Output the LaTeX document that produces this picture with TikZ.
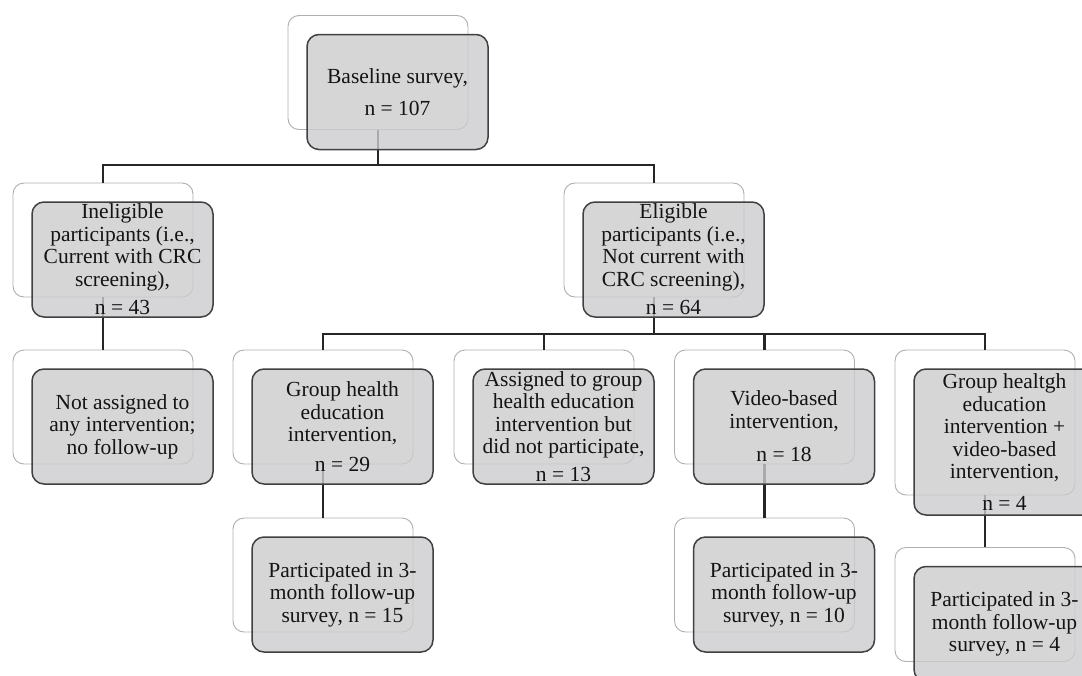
\documentclass[tikz,border=0pt]{standalone}
\usepackage{fontspec}
\setmainfont{Liberation Serif}
\usepackage{xcolor}
\usepackage{tikz}
\usetikzlibrary{shapes, positioning}
\definecolor{boxgray}{RGB}{204,204,206}
\definecolor{backline}{RGB}{175,175,175}
\definecolor{frontline}{RGB}{64,64,64}
\definecolor{connline}{RGB}{38,38,38}

\begin{document}
\begin{tikzpicture}[x=1pt, y=-1pt,
            back/.style = {draw=backline, line width=0.9pt, fill=white, rounded corners=11pt,
                           minimum width=180pt, minimum height=114pt, inner sep=0pt},
            front/.style = {draw=frontline, line width=1.5pt, fill=boxgray, fill opacity=0.8,
                            rounded corners=12pt, minimum width=181pt, minimum height=115pt, inner sep=0pt},
            txt/.style = {align=center, inner sep=0pt, text=black!92,
                          font=\fontsize{21.5}{22.5}\selectfont},
            conn/.style = {draw=connline, line width=2.3pt}]
            \useasboundingbox (0,0) rectangle (1082,675);
            \clip (0,0) rectangle (1082,675);
            % back boxes
            \node[back] (b0) at (378,72.5) {};
            \node[back] (b1) at (103,240) {};
            \node[back] (b2) at (654,240) {};
            \node[back] (b3) at (103,407) {};
            \node[back] (b4) at (323,407) {};
            \node[back] (b5) at (544,407) {};
            \node[back] (b6) at (764.5,407) {};
            \node[back, minimum height=145pt] (b7) at (985,422.5) {};
            \node[back] (b8) at (323,575) {};
            \node[back] (b9) at (764.5,575) {};
            \node[back] (b10) at (985,604.5) {};
            % connectors
            \coordinate (bar1) at (378,165);
            \coordinate (bar2) at (654,334);
            \draw[conn] (b0.south) -- (bar1) -| (b1.north);
            \draw[conn] (bar1) -| (b2.north);
            \draw[conn] (b1.south) -- (b3.north);
            \foreach \n in {4,...,7}
                \draw[conn] (b2.south) -- (bar2) -| (b\n.north);
            \draw[conn] (b4.south) -- (b8.north);
            \draw[conn] (b6.south) -- (b9.north);
            \draw[conn] (b7.south) -- (b10.north);
            % front boxes
            \foreach \n in {0,...,6,8,9,10}
                \node[front] (f\n) at ([shift={(19.5pt,-19.5pt)}]b\n.center) {};
            \node[front, minimum height=146pt] (f7) at ([shift={(19.5pt,-19.5pt)}]b7.center) {};
            % texts
            \node[txt] (t0) at (f0) {Baseline survey,\\[9pt] n = 107};
            \node[txt] (t1) at (f1) {Ineligible\\ participants (i.e.,\\ Current with CRC\\ screening),\\[6pt] n = 43};
            \node[txt] (t2) at (f2) {Eligible\\ participants (i.e.,\\ Not current with\\ CRC screening),\\[6pt] n = 64};
            \node[txt] (t3) at (f3) {Not assigned to\\ any intervention;\\ no follow-up};
            \node[txt] (t4) at (f4) {Group health\\ education\\ intervention,\\[7pt] n = 29};
            \node[txt] (t5) at (f5) {Assigned to group\\ health education\\ intervention but\\ did not participate,\\[5pt] n = 13};
            \node[txt] (t6) at (f6) {Video-based\\ intervention,\\[11pt] n = 18};
            \node[txt] (t7) at (f7) {Group healtgh\\ education\\ intervention +\\ video-based\\ intervention,\\[9pt] n = 4};
            \node[txt] (t8) at (f8) {Participated in 3-\\ month follow-up\\ survey, n = 15};
            \node[txt] (t9) at (f9) {Participated in 3-\\ month follow-up\\ survey, n = 10};
            \node[txt] (t10) at (f10) {Participated in 3-\\ month follow-up\\ survey, n = 4};
\end{tikzpicture}
\end{document}
